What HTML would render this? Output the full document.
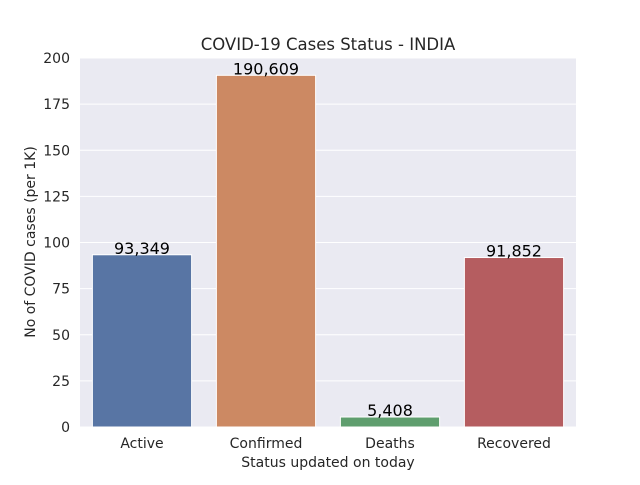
<!DOCTYPE html>
<html><head><meta charset="utf-8"><style>
html,body{margin:0;padding:0;background:#fff;}
svg text{font-family:"DejaVu Sans","Liberation Sans",sans-serif;}
</style></head><body>
<svg id="chart" width="640" height="480" xmlns="http://www.w3.org/2000/svg">
<rect x="80" y="58" width="496" height="369" fill="#eaeaf2"/>
<g id="grid"></g><g id="bars"></g><g id="labels"></g><g id="ticks"></g>
<text x="328" y="50" text-anchor="middle" font-size="16.5" fill="#262626">COVID-19 Cases Status - INDIA</text>
<text x="328" y="467" text-anchor="middle" font-size="14" fill="#262626">Status updated on today</text>
<text transform="translate(35,242) rotate(-90)" text-anchor="middle" font-size="14" fill="#262626">No of COVID cases (per 1K)</text>
</svg>
<script>
const categories=["Active","Confirmed","Deaths","Recovered"];
const values=[93.349,190.609,5.408,91.852];
const valueLabels=["93,349","190,609","5,408","91,852"];
const yTicks=[0,25,50,75,100,125,150,175,200];
const colors=["#5875a4","#cc8963","#5f9e6e","#b55d60"];
const NS="http://www.w3.org/2000/svg";
const L=80,R=576,T=58,B=427,yMax=200;
const y=v=>B-(v/yMax)*(B-T);
const step=(R-L)/categories.length;
const xc=i=>L+step*(i+0.5);
function mk(t,a,p){const e=document.createElementNS(NS,t);for(const k in a)e.setAttribute(k,a[k]);p.appendChild(e);return e;}
const grid=document.getElementById('grid'),bars=document.getElementById('bars'),labels=document.getElementById('labels'),ticks=document.getElementById('ticks');
yTicks.forEach(t=>{
 const g=mk('line',{x1:L,x2:R,y1:y(t),y2:y(t),stroke:'#fff','stroke-width':1},grid);
 
 
 const tx=mk('text',{x:L-10,y:y(t)+5,'text-anchor':'end','font-size':14,fill:'#262626'},ticks);
 tx.textContent=t;
 
 
});
categories.forEach((c,i)=>{
 const w=step*0.8;
 const b=mk('rect',{x:xc(i)-w/2,y:y(values[i]),width:w,height:B-y(values[i]),fill:colors[i],stroke:'#fff','stroke-width':1},bars);
 
 
 const v=mk('text',{x:xc(i),y:y(values[i])-1,'text-anchor':'middle','font-size':16,fill:'#000'},labels);
 v.textContent=valueLabels[i];
 
 
 const tx=mk('text',{x:xc(i),y:B+21,'text-anchor':'middle','font-size':14,fill:'#262626'},ticks);
 tx.textContent=c;
 
 
});
</script>
</body></html>
